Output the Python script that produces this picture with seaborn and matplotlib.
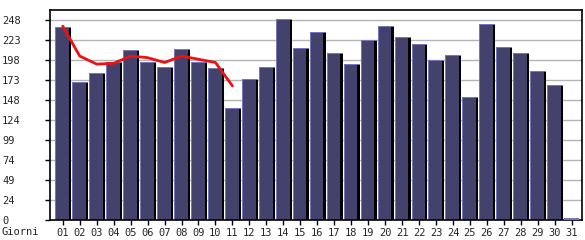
import numpy as np
import pandas as pd
import matplotlib
matplotlib.use("Agg")
import matplotlib.pyplot as plt
from matplotlib.patches import Rectangle
import seaborn as sns

days = list(range(1, 32))
day_labels = [f"{d:02d}" for d in days]
visits = [239, 171, 182, 196, 210, 196, 189, 212, 196, 188, 139, 174, 189, 249, 213,
          233, 207, 193, 223, 240, 226, 218, 198, 204, 152, 243, 214, 207, 185, 167, 0]
trend_days = list(range(1, 12))
trend = [240, 203, 193, 194, 203, 201, 195, 203, 199, 195, 166]
ytick_vals = [0, 24.8, 49.6, 74.4, 99.2, 124, 148.8, 173.6, 198.4, 223.2, 248]
ytick_labels = ["0", "24", "49", "74", "99", "124", "148", "173", "198", "223", "248"]

sns.set_theme(style="white")
plt.rcParams["font.family"] = ["DejaVu Sans Mono"]
plt.rcParams["font.size"] = 7

W, H, DPI = 585, 240, 100
fig = plt.figure(figsize=(W / DPI, H / DPI), dpi=DPI)
ax = fig.add_axes([50 / W, 20 / H, (582 - 50) / W, (220 - 10) / H])

face = "#42426c"
light = "#7676b8"
px = 1 / 17.0          # one pixel in x data units (approx)
py = 260 / 210.0       # one pixel in y data units

df = pd.DataFrame({"day": days, "visits": visits})
sns.barplot(data=df, x="day", y="visits", native_scale=True, width=0.9,
            color=light, saturation=1, edgecolor="none", linewidth=0, ax=ax, zorder=2)
bars = [p for p in ax.patches]
for p, d in zip(bars, days):
    h = p.get_height()
    left = d - 7.6 * px
    right = d + 8.4 * px
    p.set_x(left)
    p.set_width(right - left)
    if h > 0:
        ih = max(h - py, 0)
        ax.add_patch(Rectangle((left + px, 0), (right - left) - 3 * px, ih,
                               facecolor=face, edgecolor="none", zorder=2.1))
        ax.add_patch(Rectangle((right - 2.2 * px, 0), 2.2 * px, ih,
                               facecolor="black", edgecolor="none", zorder=2.1))
    else:
        p.set_height(py * 2.2)
        p.set_width(right - left - 1.5 * px)
        p.set_zorder(5)

tdf = pd.DataFrame({"day": trend_days, "avg": trend})
sns.lineplot(data=tdf, x="day", y="avg", color="#ee1111", linewidth=2, ax=ax, zorder=3)

ax.set_xlim(0.25, 31.6)
ax.set_ylim(0, 260)
ax.set_xticks(days)
ax.set_xticklabels(day_labels)
ax.set_yticks(ytick_vals)
ax.set_yticklabels(ytick_labels)
for lab in ax.get_yticklabels():
    lab.set_horizontalalignment("left")
ax.tick_params(axis="y", length=5 * 72 / DPI, width=1, color="black", direction="out",
               pad=(48 - 5) * 72 / DPI, labelsize=7.5, left=True)
ax.tick_params(axis="x", length=5 * 72 / DPI, width=1, color="black", direction="out",
               pad=2, labelsize=7.5, bottom=True)
ax.yaxis.grid(True, color="#b4b4b4", linewidth=1)
ax.set_axisbelow(True)
ax.set_xlabel("")
ax.set_ylabel("")
for s in ax.spines.values():
    s.set_visible(True)
    s.set_color("black")
    s.set_linewidth(1.2)
    s.set_zorder(4)

fig.text(2 / W, 1 - 232 / H, "Giorni", ha="left", va="center", fontsize=7.5)

fig.savefig("out.png", dpi=DPI)
